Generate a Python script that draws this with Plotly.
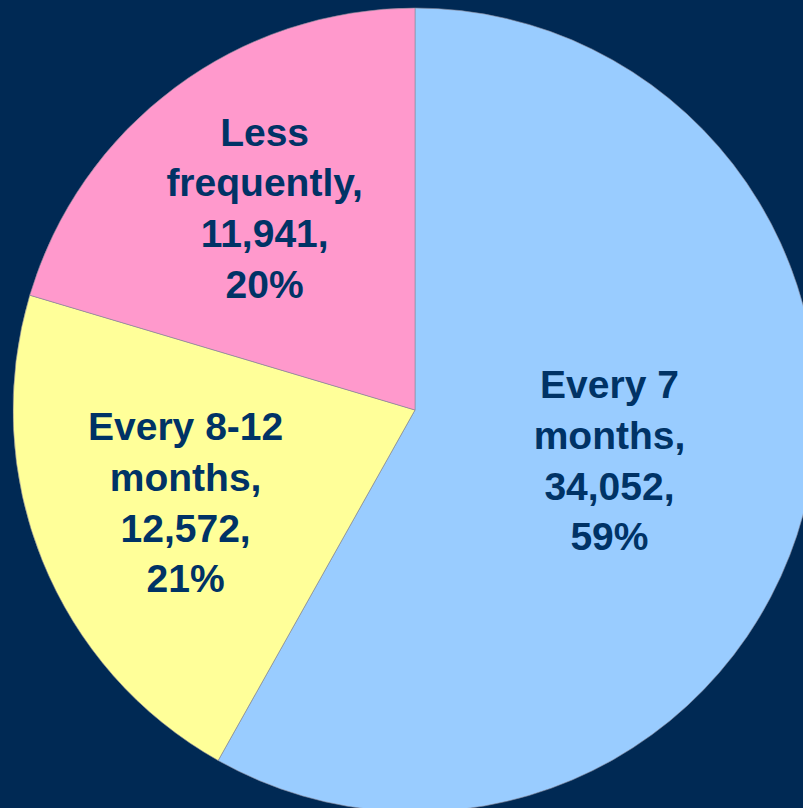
import plotly.graph_objects as go

categories = ["Every 7 months", "Every 8-12 months", "Less frequently"]
label_lines = ["Every 7<br>months", "Every 8-12<br>months", "Less<br>frequently"]
counts = [34052, 12572, 11941]
percent_labels = ["59%", "21%", "20%"]
colors = ["#99CCFF", "#FFFF99", "#FF99CC"]

texts = [f"{lab},<br>{c:,},<br>{p}" for lab, c, p in zip(label_lines, counts, percent_labels)]

fig = go.Figure(go.Pie(
    labels=categories,
    values=counts,
    text=texts,
    texttemplate="%{text}",
    textposition="inside",
    insidetextorientation="horizontal",
    sort=False,
    direction="clockwise",
    rotation=0,
    marker=dict(colors=colors, line=dict(color="#8a8a9a", width=0.6)),
    textfont=dict(family="Liberation Sans, Arial, sans-serif", size=39, color="#003366", weight="bold"),
    hoverinfo="label+value+percent",
    showlegend=False,
))

fig.update_layout(
    width=817, height=814,
    margin=dict(l=13, r=0, t=6, b=0),
    paper_bgcolor="#002954",
    plot_bgcolor="#002954",
    font=dict(family="Liberation Sans, Arial, sans-serif"),
)

fig.write_html("out.html")
